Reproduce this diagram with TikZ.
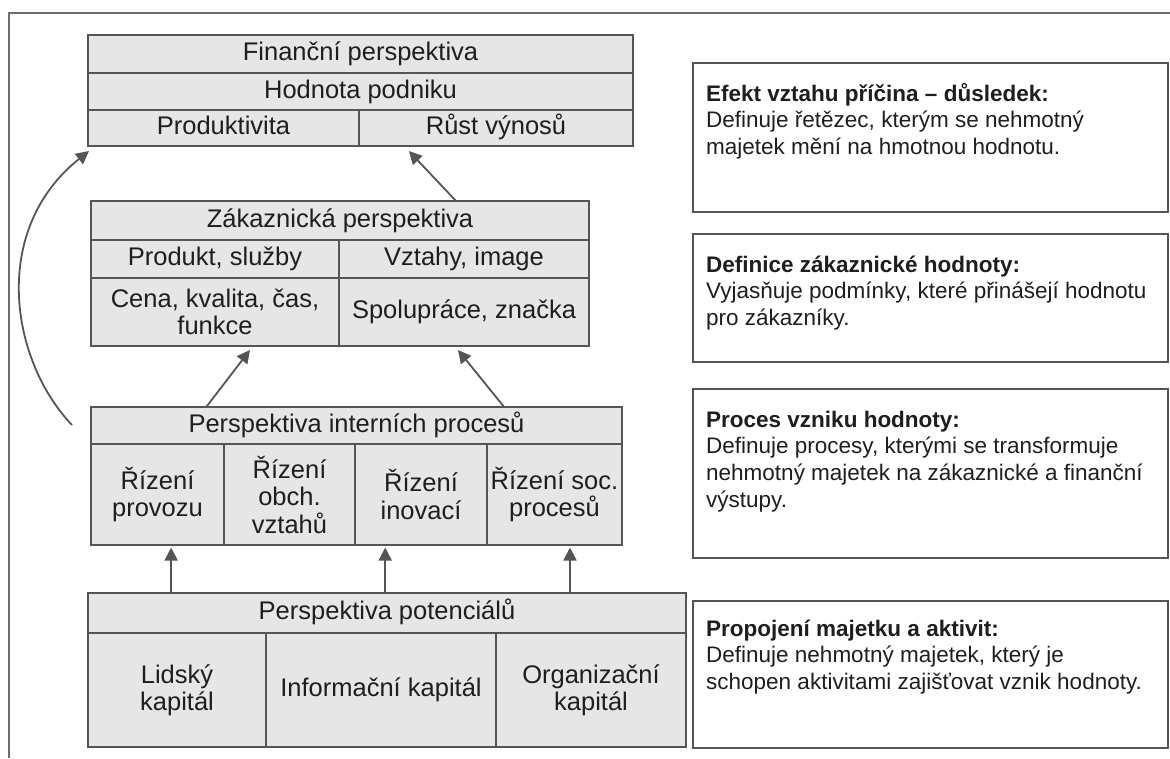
\documentclass[tikz,border=0pt]{standalone}
\usepackage{fontspec}
\setmainfont{Liberation Sans}
\usetikzlibrary{arrows.meta,calc}
\definecolor{cellfill}{HTML}{E6E6E6}
\definecolor{edge}{HTML}{555555}
\definecolor{frameline}{HTML}{6E6E6E}
\definecolor{ink}{HTML}{1E1E1E}
\begin{document}
\begin{tikzpicture}[x=1pt,y=-1pt,
  cell/.style={draw=edge, line width=2pt, fill=cellfill, anchor=north west,
    inner sep=0pt, outer sep=0pt, align=center, text=ink,
    font=\fontsize{25.5}{27.5}\selectfont},
  one/.style={text height=18.5pt, text depth=5.5pt},
  note/.style={draw=edge, line width=2pt, fill=white, anchor=north west,
    inner sep=0pt, outer sep=0pt, minimum width=475pt},
  notetext/.style={anchor=base west, inner sep=0pt, text=ink,
    font=\fontsize{22.5}{26.7}\selectfont},
  arr/.style={draw=edge, line width=1.8pt, -{Triangle[length=13pt,width=13pt]}},
]
\useasboundingbox (0,0) rectangle (1170,758);
\fill[white] (0,0) rectangle (1170,758);

% outer frame
\draw[frameline, line width=2pt] (9,758) -- (9,13) -- (1170,13);

% financial perspective
\node[cell, one, minimum width=545pt, minimum height=38pt] (finT) at (88,35) {Finanční perspektiva};
\node[cell, one, minimum width=545pt, minimum height=37pt] (finH) at (88,73) {Hodnota podniku};
\node[cell, one, minimum width=271pt, minimum height=36pt] (finP) at (88,110) {Produktivita};
\node[cell, one, minimum width=274pt, minimum height=36pt] (finR) at (359,110) {Růst výnosů};

% customer perspective
\node[cell, one, minimum width=498pt, minimum height=39pt] (zakT) at (91,201) {Zákaznická perspektiva};
\node[cell, one, minimum width=248pt, minimum height=38pt] (zakP) at (91,240) {Produkt, služby};
\node[cell, one, minimum width=250pt, minimum height=38pt] (zakV) at (339,240) {Vztahy, image};
\node[cell, minimum width=248pt, minimum height=68pt] (zakC) at (91,278) {Cena, kvalita, čas,\\funkce};
\node[cell, minimum width=250pt, minimum height=68pt] (zakS) at (339,278) {Spolupráce, značka};

% internal processes
\node[cell, one, minimum width=531pt, minimum height=37pt] (intT) at (91,407) {Perspektiva interních procesů};
\node[cell, minimum width=133pt, minimum height=101pt] (int1) at (91,444) {Řízení\\provozu};
\node[cell, minimum width=131pt, minimum height=101pt] (int2) at (224,444) {Řízení\\obch.\\vztahů};
\node[cell, minimum width=132pt, minimum height=101pt] (int3) at (355,444) {Řízení\\inovací};
\node[cell, minimum width=135pt, minimum height=101pt] (int4) at (487,444) {Řízení soc.\\procesů};

% learning and growth
\node[cell, one, minimum width=598pt, minimum height=40pt] (potT) at (88,593) {Perspektiva potenciálů};
\node[cell, minimum width=178pt, minimum height=114pt] (pot1) at (88,633) {Lidský\\kapitál};
\node[cell, minimum width=230pt, minimum height=114pt] (pot2) at (266,633) {Informační kapitál};
\node[cell, minimum width=190pt, minimum height=114pt] (pot3) at (496,633) {Organizační\\kapitál};

% explanatory notes
\node[note, minimum height=149pt] (rb1) at (693,63) {};
\node[note, minimum height=128pt] (rb2) at (693,234) {};
\node[note, minimum height=169pt] (rb3) at (693,389) {};
\node[note, minimum height=147pt] (rb4) at (693,601) {};

\node[notetext] (rt1) at ($(rb1.north west)+(13,38)$) {\parbox[t]{460pt}{\textbf{Efekt vztahu příčina – důsledek:}\\Definuje řetězec, kterým se nehmotný\\majetek mění na hmotnou hodnotu.}};
\node[notetext] (rt2) at ($(rb2.north west)+(13,38)$) {\parbox[t]{460pt}{\textbf{Definice zákaznické hodnoty:}\\Vyjasňuje podmínky, které přinášejí hodnotu\\pro zákazníky.}};
\node[notetext] (rt3) at ($(rb3.north west)+(13,38)$) {\parbox[t]{460pt}{\textbf{Proces vzniku hodnoty:}\\Definuje procesy, kterými se transformuje\\nehmotný majetek na zákaznické a finanční\\výstupy.}};
\node[notetext] (rt4) at ($(rb4.north west)+(13,35)$) {\parbox[t]{460pt}{\textbf{Propojení majetku a aktivit:}\\Definuje nehmotný majetek, který je\\schopen aktivitami zajišťovat vznik hodnoty.}};

% connectors
\draw[arr] ($(zakT.north west)!0.733!(zakT.north east)$) -- ($(finR.south west)!0.182!(finR.south east)+(0,5)$);
\draw[arr] ($(intT.north west)!0.217!(intT.north east)$) -- ($(zakC.south west)!0.641!(zakC.south east)+(0,4)$);
\draw[arr] ($(intT.north west)!0.778!(intT.north east)$) -- ($(zakS.south west)!0.476!(zakS.south east)+(0,4)$);

\coordinate (u1) at ($(potT.north west)!0.139!(potT.north east)$);
\coordinate (u2) at ($(potT.north west)!0.497!(potT.north east)$);
\coordinate (u3) at ($(potT.north west)!0.806!(potT.north east)$);
\draw[arr, shorten >=2.5pt] (u1) -- (u1 |- int1.south);
\draw[arr, shorten >=2.5pt] (u2) -- (u2 |- int3.south);
\draw[arr, shorten >=2.5pt] (u3) -- (u3 |- int4.south);

\coordinate (cstart) at ($(intT.north west)+(-19,18)$);
\draw[arr] (cstart) .. controls (10,360) and (-10,230) .. ($(finP.south west)+(1,5)$);
\end{tikzpicture}
\end{document}
